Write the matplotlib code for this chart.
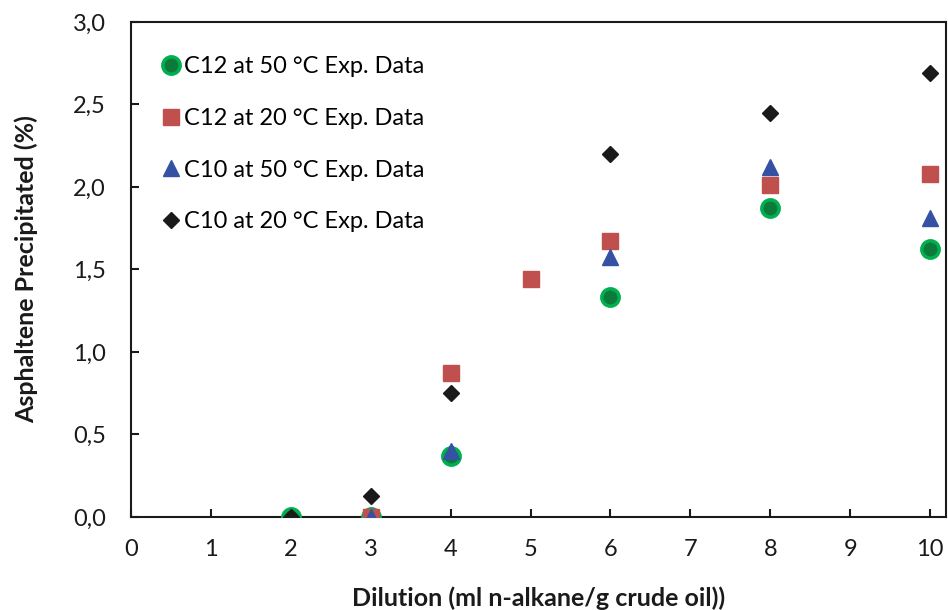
import matplotlib.pyplot as plt
from matplotlib.ticker import FuncFormatter

plt.rcParams['font.family'] = ['Lato', 'DejaVu Sans']

# data
x_c12_50 = [2, 3, 4, 6, 8, 10]
y_c12_50 = [0.0, 0.0, 0.37, 1.335, 1.875, 1.625]

x_c12_20 = [3, 4, 5, 6, 8, 10]
y_c12_20 = [0.0, 0.875, 1.44, 1.67, 2.01, 2.08]

x_c10_50 = [3, 4, 6, 8, 10]
y_c10_50 = [0.0, 0.40, 1.575, 2.12, 1.81]

x_c10_20 = [2, 3, 4, 6, 8, 10]
y_c10_20 = [0.0, 0.125, 0.75, 2.2, 2.45, 2.69]

labels = ["C12 at 50 °C Exp. Data", "C12 at 20 °C Exp. Data",
          "C10 at 50 °C Exp. Data", "C10 at 20 °C Exp. Data"]

fig = plt.figure(figsize=(9.48, 6.1), dpi=100)
ax = fig.add_axes([0.1382, 0.1525, 0.8597, 0.8115])

ax.plot(x_c12_50, y_c12_50, 'o', ms=12.5, mfc='#0b7a3a', mec='#00b050',
        mew=2.5, ls='none', label=labels[0], zorder=3)
ax.plot(x_c12_20, y_c12_20, 's', ms=11, mfc='#c0504d', mec='#c0504d',
        ls='none', label=labels[1], zorder=4)
ax.plot(x_c10_50, y_c10_50, '^', ms=12, mfc='#3451a3', mec='#3451a3',
        ls='none', label=labels[2], zorder=5)
ax.plot(x_c10_20, y_c10_20, 'D', ms=8.5, mfc='#1a1a1a', mec='#1a1a1a',
        ls='none', label=labels[3], zorder=6)

ax.set_xlim(0, 10.2)
ax.set_ylim(0, 3.0)
ax.set_xticks(range(0, 11))
ax.set_yticks([0, 0.5, 1.0, 1.5, 2.0, 2.5, 3.0])
ax.yaxis.set_major_formatter(FuncFormatter(lambda v, p: f"{v:.1f}".replace('.', ',')))

ax.tick_params(direction='in', length=6, width=1.5, labelsize=17,
               colors='#1a1a1a')
ax.tick_params(axis='x', pad=16)
ax.tick_params(axis='y', pad=18)
for s in ax.spines.values():
    s.set_linewidth(1.5)
    s.set_color('#1a1a1a')

ax.set_xlabel("Dilution (ml n-alkane/g crude oil))", fontsize=18,
              fontweight='bold', color='#1a1a1a', labelpad=19)
ax.set_ylabel("Asphaltene Precipitated (%)", fontsize=18,
              fontweight='bold', color='#1a1a1a', labelpad=25)

ax.legend(loc='upper left', frameon=False, fontsize=17, labelspacing=1.3,
          handletextpad=0.05, handlelength=1.0, borderaxespad=0.0,
          bbox_to_anchor=(0.023, 0.95))

plt.savefig('out.png', dpi=100)
